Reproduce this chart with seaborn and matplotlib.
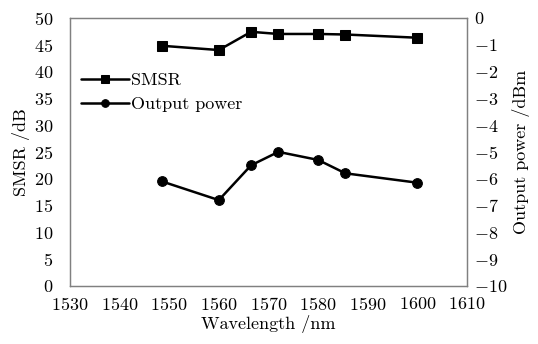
# SMSR and output power vs wavelength, dual y axes

import pandas as pd
import numpy as np
import seaborn as sns
import matplotlib
import matplotlib.pyplot as plt

sns.set_style("white")
matplotlib.rcParams['font.family'] = ['cmr10', 'DejaVu Serif']
matplotlib.rcParams['mathtext.fontset'] = 'cm'
matplotlib.rcParams['axes.formatter.use_mathtext'] = True
matplotlib.rcParams['axes.unicode_minus'] = True
matplotlib.rcParams['text.color'] = 'black'
matplotlib.rcParams['axes.labelcolor'] = 'black'
matplotlib.rcParams['xtick.color'] = 'black'
matplotlib.rcParams['ytick.color'] = 'black'

# data
wavelength = [1548.5, 1560, 1566.5, 1572, 1580, 1585.5, 1600]
smsr = [44.8, 44.0, 47.4, 47.0, 47.0, 46.9, 46.3]
output_power = [-6.1, -6.8, -5.5, -5.0, -5.3, -5.8, -6.15]

df = pd.DataFrame({"wavelength": wavelength, "smsr": smsr, "power": output_power})

fs = 13
fig, ax = plt.subplots(figsize=(5.38, 3.44), dpi=100)
fig.subplots_adjust(left=0.130, right=0.868, bottom=0.169, top=0.948)
ax2 = ax.twinx()

sns.lineplot(data=df, x="wavelength", y="smsr", ax=ax, color="black",
             marker="s", markersize=7, linewidth=1.8, markeredgecolor="black",
             label="SMSR", legend=False)
sns.lineplot(data=df, x="wavelength", y="power", ax=ax2, color="black",
             marker="o", markersize=7, linewidth=1.8, markeredgecolor="black",
             label="Output power", legend=False)

ax.set_xlim(1530, 1610)
ax.set_ylim(0, 50)
ax2.set_ylim(-10, 0)
ax.set_xticks(np.arange(1530, 1611, 10))
ax.set_yticks(np.arange(0, 51, 5))
ax2.set_yticks(np.arange(-10, 1, 1))

ax.set_xlabel("Wavelength /nm", fontsize=fs, labelpad=2, color="black")
ax.set_ylabel("SMSR /dB", fontsize=fs, labelpad=3, color="black")
ax2.set_ylabel("Output power /dBm", fontsize=fs, labelpad=3, color="black")

ax.tick_params(axis='x', labelsize=fs, length=0, pad=7, labelcolor="black")
ax.tick_params(axis='y', labelsize=fs, length=0, pad=12, labelcolor="black")
ax2.tick_params(axis='y', labelsize=fs, length=0, pad=5, labelcolor="black")

for a in (ax, ax2):
    for s in a.spines.values():
        s.set_color("#808080")
        s.set_linewidth(0.9)

h1, l1 = ax.get_legend_handles_labels()
h2, l2 = ax2.get_legend_handles_labels()
leg = ax.legend(h1 + h2, l1 + l2, loc="center left", bbox_to_anchor=(0.027, 0.722),
                frameon=False, fontsize=fs, handlelength=2.7, borderaxespad=0,
                borderpad=0, labelspacing=0.45, handletextpad=0.1)
for h in leg.legend_handles:
    h.set_markersize(5.5)
for t in leg.get_texts():
    t.set_color("black")

plt.savefig("out.png", dpi=100)
